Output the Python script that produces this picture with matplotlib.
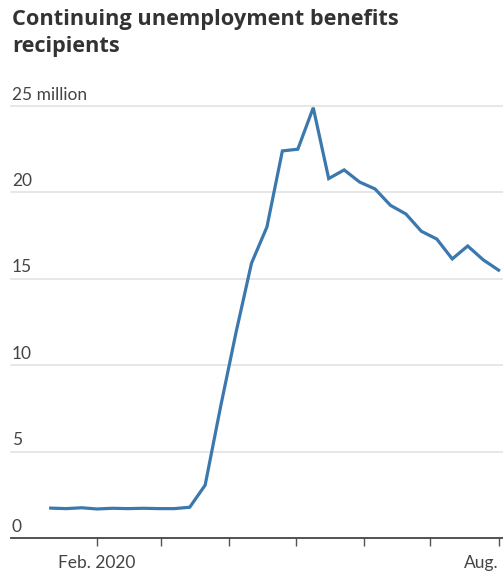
import numpy as np
import pandas as pd
import matplotlib.pyplot as plt
import matplotlib.dates as mdates

# Weekly continuing claims, millions (week ending dates)
weeks = pd.date_range("2020-01-11", "2020-08-01", freq="7D")
recipients = [1.73, 1.70, 1.75, 1.68, 1.72, 1.70, 1.72, 1.70, 1.70, 1.78,
              3.06, 7.6, 11.9, 15.9, 18.0, 22.4, 22.5, 24.9, 20.8, 21.3,
              20.6, 20.2, 19.25, 18.75, 17.75, 17.3, 16.15, 16.9, 16.1, 15.5]

y_ticks = [0, 5, 10, 15, 20, 25]
y_labels = ["0", "5", "10", "15", "20", "25 million"]
x_ticks = pd.date_range("2020-02-01", "2020-08-01", freq="MS")
x_labels = {0: "Feb. 2020", 6: "Aug."}

plt.rcParams['font.family'] = ['Lato', 'DejaVu Sans']

fig = plt.figure(figsize=(5.03, 5.78), dpi=100)
ax = fig.add_axes([11 / 503, 40 / 578, 492 / 503, 432 / 578])

ax.plot(weeks, recipients, color="#3a78ad", lw=2.3, solid_joinstyle="miter", clip_on=False, zorder=3)

ax.set_ylim(0, 25)
ax.set_xlim(pd.Timestamp("2019-12-24"), pd.Timestamp("2020-08-03"))

for v, lab in zip(y_ticks, y_labels):
    if v > 0:
        ax.axhline(v, color="#e3e3e3", lw=1.2, zorder=1, clip_on=False)
    ax.text(0.002, v + 0.2, lab, transform=ax.get_yaxis_transform(),
            ha="left", va="bottom", fontsize=12.5, color="#444444")

ax.set_yticks([])
ax.set_xticks(x_ticks)
ax.set_xticklabels([""] * len(x_ticks))
ax.tick_params(axis="x", direction="out", length=6, width=1, color="#555555")
for i, lab in x_labels.items():
    ax.text(x_ticks[i], -1.0, lab, ha="center" if i == 0 else "right", va="top",
            fontsize=12.5, color="#444444")

for s in ["top", "right", "left"]:
    ax.spines[s].set_visible(False)
ax.spines["bottom"].set_color("#444444")
ax.spines["bottom"].set_linewidth(1.3)

fig.text(12 / 503, 1 - 9 / 578, "Continuing unemployment benefits\nrecipients",
         ha="left", va="top", fontsize=15.7, fontweight="bold", color="#333333",
         linespacing=1.4, family=["Open Sans", "DejaVu Sans"])

fig.savefig("out.png", dpi=100)
